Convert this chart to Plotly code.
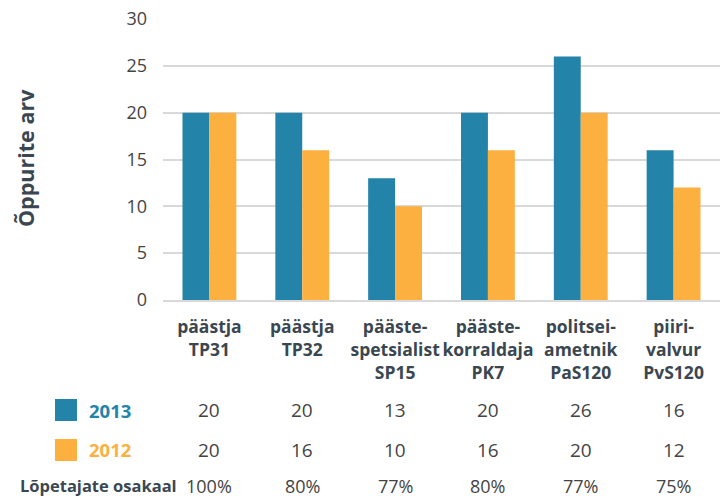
import plotly.graph_objects as go

categories = ["päästja<br>TP31", "päästja<br>TP32", "pääste-<br>spetsialist<br>SP15",
              "pääste-<br>korraldaja<br>PK7", "politsei-<br>ametnik<br>PaS120", "piiri-<br>valvur<br>PvS120"]
series_2013 = [20, 20, 13, 20, 26, 16]
series_2012 = [20, 16, 10, 16, 20, 12]
share_labels = ["100%", "80%", "77%", "80%", "77%", "75%"]
y_ticks = [0, 5, 10, 15, 20, 25, 30]

BLUE = "#2383a8"
ORANGE = "#fbb040"
DARK = "#3a4750"
GREY = "#444444"
FONT = "Open Sans"

W, H = 720, 499
L, R, T, B = 163, 0, 19, 199
plot_h = H - T - B
plot_w = W - L - R

def py(pix):
    return (H - B - pix) / plot_h

def px(pix):
    return (pix - L) / plot_w

fig = go.Figure()
fig.add_trace(go.Bar(x=categories, y=series_2013, name="2013", marker_color=BLUE,
                     marker_line_width=0))
fig.add_trace(go.Bar(x=categories, y=series_2012, name="2012", marker_color=ORANGE,
                     marker_line_width=0))

ann = []
vfont = dict(family=FONT, size=19, color=GREY)
sfont = dict(family=FONT, size=18, color=GREY)
for cat, v13, v12, s in zip(categories, series_2013, series_2012, share_labels):
    ann.append(dict(x=cat, y=py(410), xref="x", yref="paper", text=str(v13), showarrow=False,
                    font=vfont, yanchor="middle"))
    ann.append(dict(x=cat, y=py(450), xref="x", yref="paper", text=str(v12), showarrow=False,
                    font=vfont, yanchor="middle"))
    ann.append(dict(x=cat, y=py(486), xref="x", yref="paper", text=s, showarrow=False,
                    font=sfont, yanchor="middle", borderpad=0))

ann.append(dict(x=px(87), y=py(410), xref="paper", yref="paper", text="<b>2013</b>", showarrow=False,
                xanchor="left", yanchor="middle", font=dict(family=FONT, size=18.5, color=BLUE)))
ann.append(dict(x=px(87), y=py(450), xref="paper", yref="paper", text="<b>2012</b>", showarrow=False,
                xanchor="left", yanchor="middle", font=dict(family=FONT, size=18.5, color=ORANGE)))
ann.append(dict(x=px(178), y=py(486), xref="paper", yref="paper", text="<b>Lõpetajate osakaal</b>",
                showarrow=False, xanchor="right", yanchor="middle", borderpad=0,
                font=dict(family=FONT, size=16.5, color=DARK)))
ann.append(dict(x=px(25), y=py(158), xref="paper", yref="paper", text="<b>Õppurite arv</b>",
                showarrow=False, textangle=-90, xanchor="center", yanchor="middle",
                font=dict(family=FONT, size=21.5, color=DARK)))

shapes = [
    dict(type="rect", xref="paper", yref="paper", x0=px(55), x1=px(77), y0=py(421), y1=py(399),
         fillcolor=BLUE, line_width=0),
    dict(type="rect", xref="paper", yref="paper", x0=px(55), x1=px(77), y0=py(461), y1=py(439),
         fillcolor=ORANGE, line_width=0),
]

fig.update_layout(
    width=W, height=H,
    margin=dict(l=L, r=R, t=T, b=B),
    plot_bgcolor="white", paper_bgcolor="white",
    barmode="group", bargap=0.42, bargroupgap=0,
    showlegend=False,
    annotations=ann, shapes=shapes,
    font=dict(family=FONT, color=GREY),
)
fig.update_yaxes(range=[0, 30], tickvals=y_ticks, showgrid=True, gridcolor="#d9d9d9", gridwidth=2,
                 zeroline=False, showline=False, ticks="", ticklabelstandoff=15,
                 tickfont=dict(family=FONT, size=18, color=GREY))
fig.update_xaxes(showgrid=False, showline=True, linecolor="#d9d9d9", linewidth=2,
                 ticks="", tickangle=0, ticklabelstandoff=10,
                 tickvals=categories, ticktext=["<b>" + c + "</b>" for c in categories],
                 tickfont=dict(family=FONT, size=17.5, color=DARK))

fig.write_html("out.html", config={"displayModeBar": False},
               post_script="document.body.style.margin='0';document.body.style.overflow='hidden';")
